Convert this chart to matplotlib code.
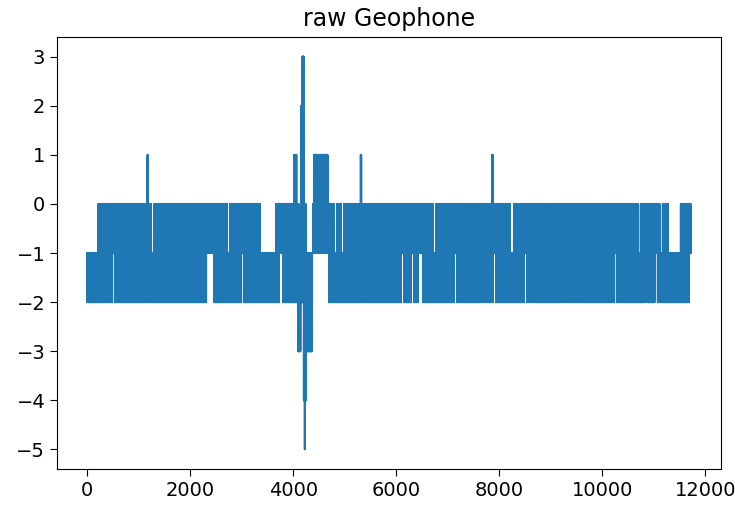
import numpy as np
import matplotlib
matplotlib.use("Agg")
import matplotlib.pyplot as plt

# Number of samples in the raw geophone record
n_samples = 11720

# Sample-index intervals where the signal reaches 0
upper_band = [
    (213, 951), (989, 1242), (1300, 1959), (1998, 2716), (2774, 3356),
    (3667, 4249), (4384, 4792), (4850, 4928), (4986, 5898), (5936, 6712),
    (6771, 7372), (7411, 7508), (7547, 8206), (8284, 8361), (8400, 8924),
    (8963, 9972), (10010, 10689), (10748, 11116), (11174, 11271),
    (11524, 11718),
]

# Sample-index intervals where the signal reaches -2
lower_band = [
    (0, 369), (407, 485), (543, 2309), (2464, 2988), (3046, 3123),
    (3143, 3725), (3802, 4093), (4695, 6092), (6150, 6286), (6344, 6421),
    (6518, 7120), (7178, 7644), (7682, 7702), (7741, 7876), (7935, 8478),
    (8536, 8575), (8594, 8652), (8691, 9234), (9254, 9312), (9351, 9622),
    (9642, 10224), (10282, 10845), (10883, 11019), (11077, 11679),
]

# Isolated excursions: (start, end, min value, max value)
spikes = [
    (1170, 1180, -1, 1),
    (4016, 4060, -2, 1),
    (4093, 4140, -3, -1),
    (4152, 4171, -2, 2),
    (4171, 4205, -2, 3),
    (4205, 4245, -4, -1),
    (4222, 4228, -5, -1),
    (4260, 4365, -3, -1),
    (4404, 4470, -1, 1),
    (4500, 4578, -1, 1),
    (4610, 4665, -1, 1),
    (5310, 5322, -1, 1),
    (7862, 7874, -1, 1),
]

# Build the sample sequence from the read intervals
idx = np.arange(n_samples)
hi = np.full(n_samples, -1)
lo = np.full(n_samples, -1)
for s, e in upper_band:
    hi[s:e] = 0
for s, e in lower_band:
    lo[s:e] = -2
for s, e, mn, mx in spikes:
    lo[s:e] = mn
    hi[s:e] = mx
signal = np.where(idx % 2 == 0, hi, lo)

fig = plt.figure(figsize=(7.35, 5.08), dpi=100)
ax = fig.add_axes([0.0776, 0.0768, 0.9034, 0.8502])
ax.plot(idx, signal, color="#1f77b4", linewidth=1.5)
ax.set_title("raw Geophone", fontsize=17, pad=8)
ax.set_yticks(range(-5, 4))
ax.set_xticks(range(0, 12001, 2000))
ax.tick_params(labelsize=14, length=5)
fig.savefig("out.png", dpi=100)
